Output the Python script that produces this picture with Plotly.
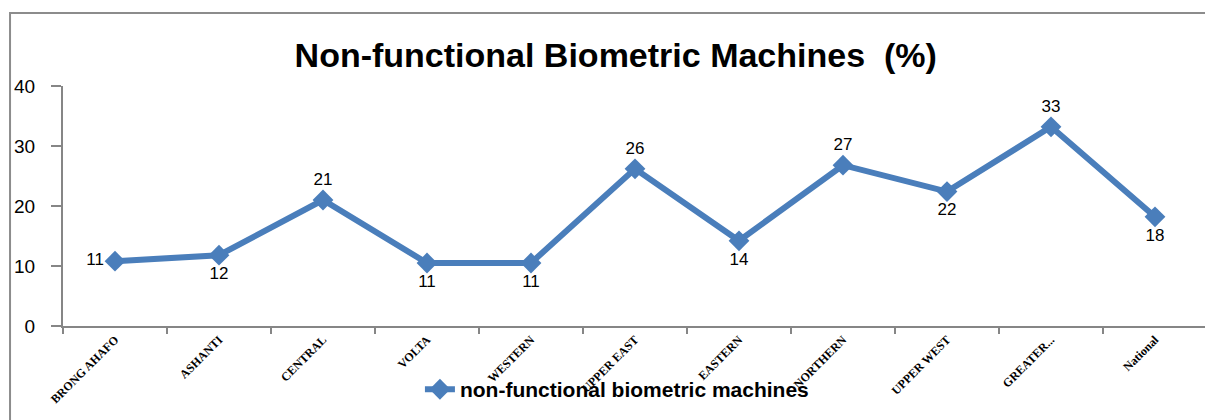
import plotly.graph_objects as go

regions = ["BRONG AHAFO", "ASHANTI", "CENTRAL", "VOLTA", "WESTERN", "UPPER EAST",
           "EASTERN", "NORTHERN", "UPPER WEST", "GREATER...", "National"]
values = [10.8, 11.8, 21.0, 10.5, 10.5, 26.2, 14.2, 26.8, 22.4, 33.2, 18.2]
labels = ["11", "12", "21", "11", "11", "26", "14", "27", "22", "33", "18"]
label_pos = ["middle left", "bottom center", "top center", "bottom center", "bottom center",
             "top center", "bottom center", "top center", "bottom center", "top center",
             "bottom center"]

fig = go.Figure()
fig.add_trace(go.Scatter(
    x=regions, y=values, mode="lines+markers+text",
    name="non-functional biometric machines",
    line=dict(color="#4A7EBB", width=6),
    marker=dict(symbol="diamond", size=16, color="#4A7EBB"),
    text=labels, textposition=label_pos,
    textfont=dict(family="Liberation Sans, Arial", size=17, color="#000000"),
    cliponaxis=False,
))

fig.update_layout(
    width=1213, height=420,
    margin=dict(l=55, r=14, t=78, b=102, autoexpand=False),
    paper_bgcolor="white", plot_bgcolor="white",
    title=dict(text="<b>Non-functional Biometric Machines  (%)</b>",
               x=0.501, xanchor="center", y=0.888, yanchor="middle",
               font=dict(family="Liberation Sans, Arial", size=34, color="#000000")),
    showlegend=True,
    legend=dict(orientation="h", x=0.312, xanchor="left", y=-0.265, yanchor="middle",
                font=dict(family="Liberation Sans, Arial", size=21, color="#000000", weight="bold"),
                bgcolor="rgba(0,0,0,0)"),
    xaxis=dict(type="category", showline=True, linecolor="#868686", linewidth=2,
               ticks="outside", ticklen=6, tickcolor="#868686", tickwidth=2,
               tickangle=-45, showgrid=False, zeroline=False, automargin=False,
               tickson="boundaries", range=[-0.5, 10.5],
               tickfont=dict(family="Liberation Serif, Times New Roman", size=12,
                             color="#000000", weight="bold")),
    yaxis=dict(range=[0, 40], tickvals=[0, 10, 20, 30, 40], showline=True,
               linecolor="#868686", linewidth=2, ticks="outside", ticklen=10,
               tickcolor="#868686", tickwidth=2, showgrid=False, zeroline=False,
               automargin=False, ticklabelstandoff=12,
               tickfont=dict(family="Liberation Sans, Arial", size=19, color="#000000")),
    shapes=[dict(type="rect", xref="paper", yref="paper",
                 x0=-0.0463, x1=1.02, y0=-0.6, y1=1.304,
                 line=dict(color="#8C8C8C", width=2), fillcolor="rgba(0,0,0,0)",
                 layer="below")],
)

fig.write_html("out.html")
